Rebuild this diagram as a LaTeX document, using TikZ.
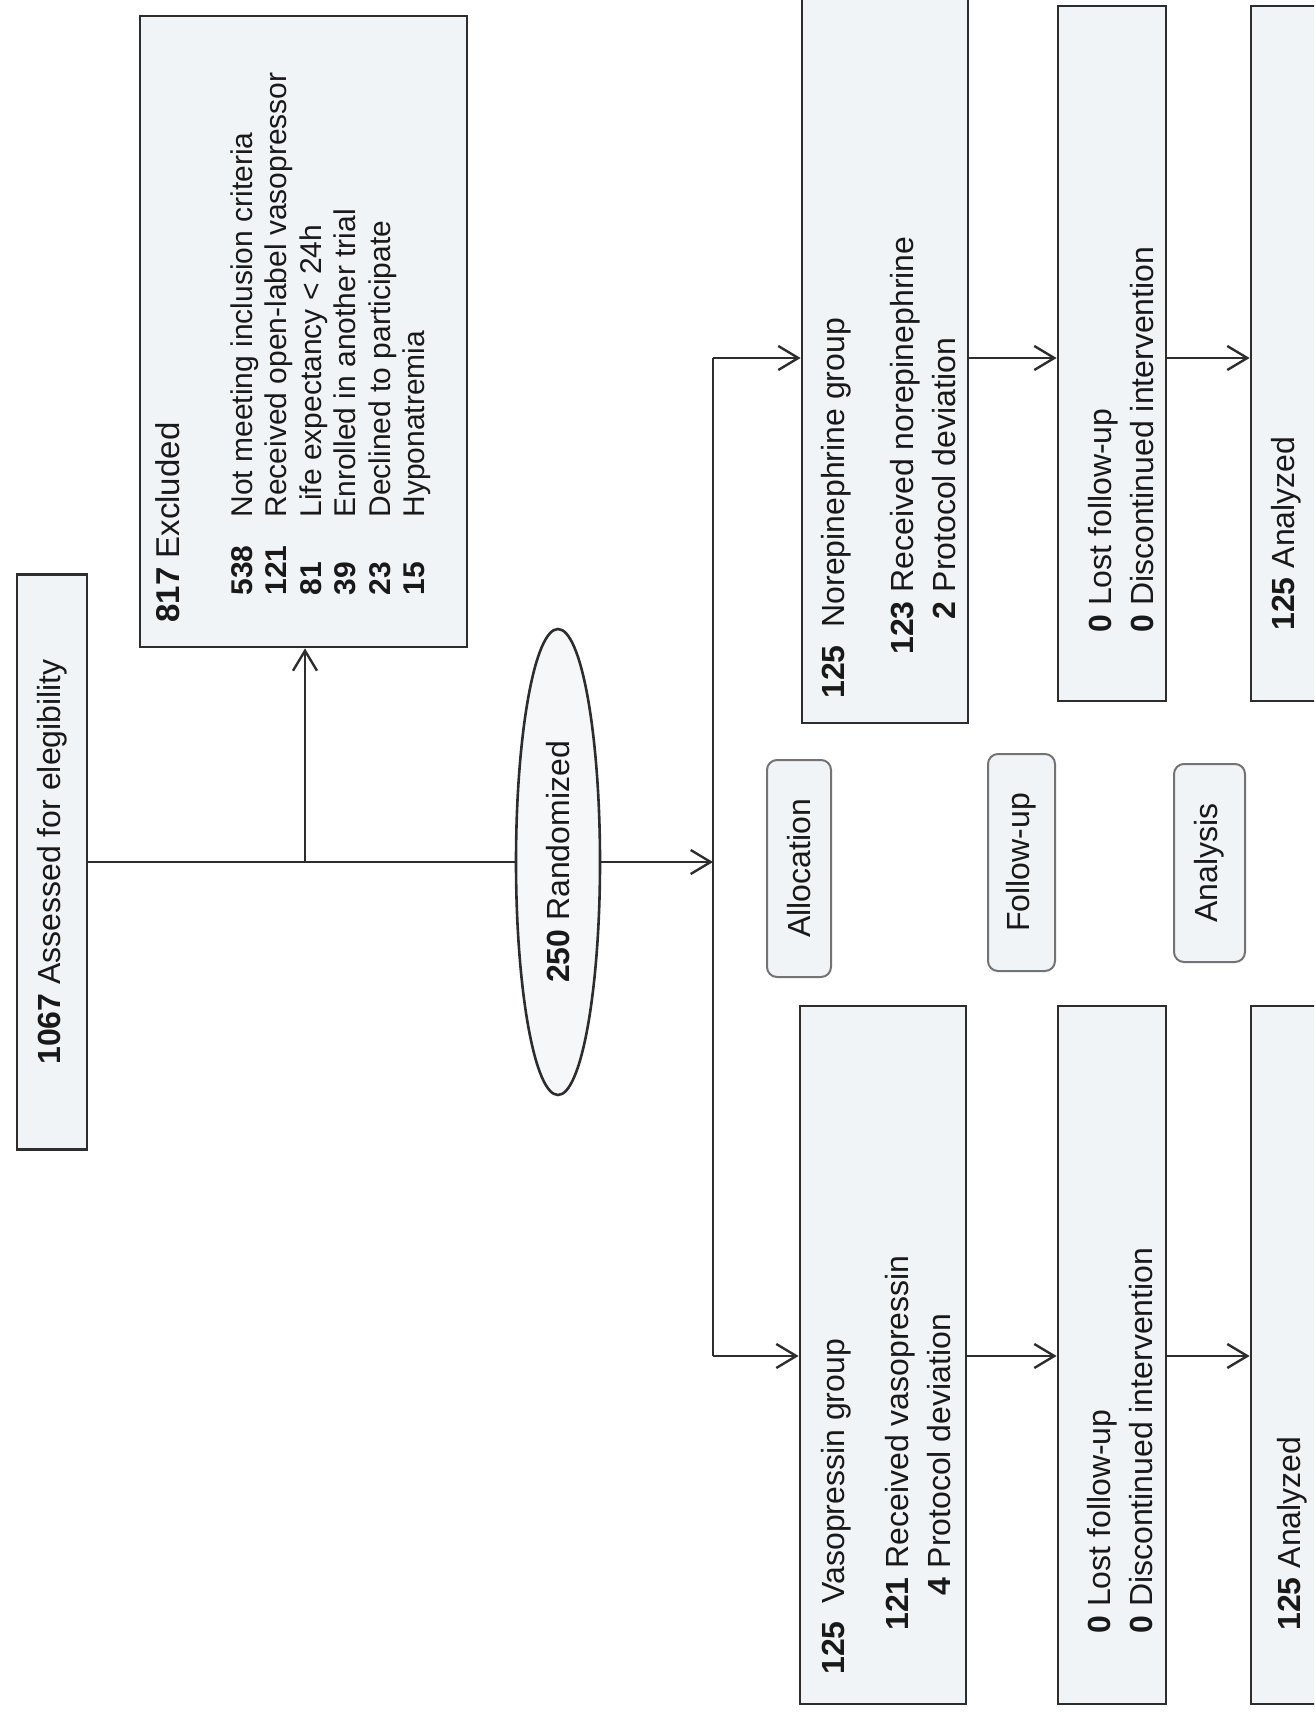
\documentclass[tikz,border=0pt]{standalone}
\usepackage{fontspec}
\setmainfont{Liberation Sans}
\usetikzlibrary{shapes.geometric,arrows.meta}
\definecolor{boxfill}{RGB}{241,244,247}
\definecolor{edge}{RGB}{45,45,45}

\begin{document}
\begin{tikzpicture}[x=0.5pt,y=-0.5pt]
  \tikzset{
    box/.style = {draw=edge, line width=1.4pt, fill=boxfill, rotate=90, inner sep=0pt},
    stage/.style = {draw=black!55, line width=1pt, fill=boxfill, rounded corners=5pt, rotate=90,
      inner sep=0pt, text=black!90, font=\fontsize{16}{21}\selectfont},
    txt/.style = {rotate=90, inner sep=0pt, anchor=base west, text=black!90, font=\fontsize{16}{21}\selectfont},
    small/.style = {txt, font=\fontsize{15}{17.25}\selectfont},
    line/.style = {draw=edge, line width=1.2pt},
    arr/.style = {line, -{Straight Barb[length=10pt,width=12pt]}}
  }
  \useasboundingbox (0,0) rectangle (1314,1717);
  \clip (0,0) rectangle (1314,1717);

  % enrollment
  \node[box, minimum width=287.5pt, minimum height=35pt, text=black!90,
    font=\fontsize{16}{21}\selectfont] (assess) at (52,862) {\textbf{1067} Assessed for elegibility};
  \node[box, minimum width=315.5pt, minimum height=163.5pt] (excl) at (303.5,331.5) {};
  \node[txt, font=\fontsize{16.5}{21}\selectfont] (exclhead) at (179,623) {\textbf{817} Excluded};
  \node[small] (excllist) at (252,596) {\begin{tabular}[t]{@{}l@{}}
    \makebox[39pt][l]{\textbf{538}}Not meeting inclusion criteria\\
    \makebox[39pt][l]{\textbf{121}}Received open-label vasopressor\\
    \makebox[39pt][l]{\textbf{81}}Life expectancy < 24h\\
    \makebox[39pt][l]{\textbf{39}}Enrolled in another trial\\
    \makebox[39pt][l]{\textbf{23}}Declined to participate\\
    \makebox[39pt][l]{\textbf{15}}Hyponatremia
  \end{tabular}};
  \node[ellipse, draw=edge, line width=1.3pt, fill=boxfill!70, rotate=90, inner sep=0pt,
    minimum width=233pt, minimum height=42pt, text=black!90,
    font=\fontsize{16}{21}\selectfont] (rand) at (558,862) {\textbf{250} Randomized};

  % norepinephrine arm
  \node[box, minimum width=381.5pt, minimum height=83pt] (nor) at (885,341.5) {};
  \node[txt] (norhead) at (844,699) {\textbf{125}\ \ Norepinephrine group};
  \node[txt] (norbody) at (913,655) {\begin{tabular}[t]{@{}r@{\ }l@{}}
    \textbf{123} & Received norepinephrine\\
    \textbf{2} & Protocol deviation
  \end{tabular}};
  \node[box, minimum width=347.5pt, minimum height=54pt] (norfu) at (1112,353.5) {};
  \node[txt] (norfutxt) at (1111,633) {\begin{tabular}[t]{@{}l@{}}
    \textbf{0} Lost follow-up\\
    \textbf{0} Discontinued intervention
  \end{tabular}};
  \node[box, minimum width=347.5pt, minimum height=74.5pt] (noran) at (1325.5,353.5) {};
  \node[txt] (norantxt) at (1294,631) {\textbf{125} Analyzed};

  % vasopressin arm
  \node[box, minimum width=349pt, minimum height=83pt] (vaso) at (883,1355) {};
  \node[txt] (vasohead) at (844,1675) {\textbf{125}\ \ Vasopressin group};
  \node[txt] (vasobody) at (908,1631) {\begin{tabular}[t]{@{}r@{\ }l@{}}
    \textbf{121} & Received vasopressin\\
    \textbf{4} & Protocol deviation
  \end{tabular}};
  \node[box, minimum width=349pt, minimum height=54pt] (vasofu) at (1112,1355) {};
  \node[txt] (vasofutxt) at (1110,1634) {\begin{tabular}[t]{@{}l@{}}
    \textbf{0} Lost follow-up\\
    \textbf{0} Discontinued intervention
  \end{tabular}};
  \node[box, minimum width=349pt, minimum height=74.5pt] (vasoan) at (1325.5,1355) {};
  \node[txt] (vasoantxt) at (1300,1631) {\textbf{125} Analyzed};

  % stage labels
  \node[stage, minimum width=108.5pt, minimum height=32pt] (alloc) at (799,868.5) {Allocation};
  \node[stage, minimum width=108.5pt, minimum height=33.5pt] (fulab) at (1021.5,862.5) {Follow-up};
  \node[stage, minimum width=99pt, minimum height=35.5pt] (analab) at (1209.5,863) {Analysis};

  % connectors
  \coordinate (br) at (305,862);
  \coordinate (split) at (713,862);
  \coordinate (ntop) at (713,358);
  \coordinate (vbot) at (713,1356);
  \draw[line] (assess) -- (rand);
  \draw[arr] (br) -- (br |- excl.west);
  \draw[arr] (rand) -- (split);
  \draw[line] (ntop) -- (vbot);
  \draw[arr] (ntop) -- (ntop -| nor.north);
  \draw[arr] (ntop -| nor.south) -- (ntop -| norfu.north);
  \draw[arr] (ntop -| norfu.south) -- (ntop -| noran.north);
  \draw[arr] (vbot) -- (vbot -| vaso.north);
  \draw[arr] (vbot -| vaso.south) -- (vbot -| vasofu.north);
  \draw[arr] (vbot -| vasofu.south) -- (vbot -| vasoan.north);
\end{tikzpicture}
\end{document}
